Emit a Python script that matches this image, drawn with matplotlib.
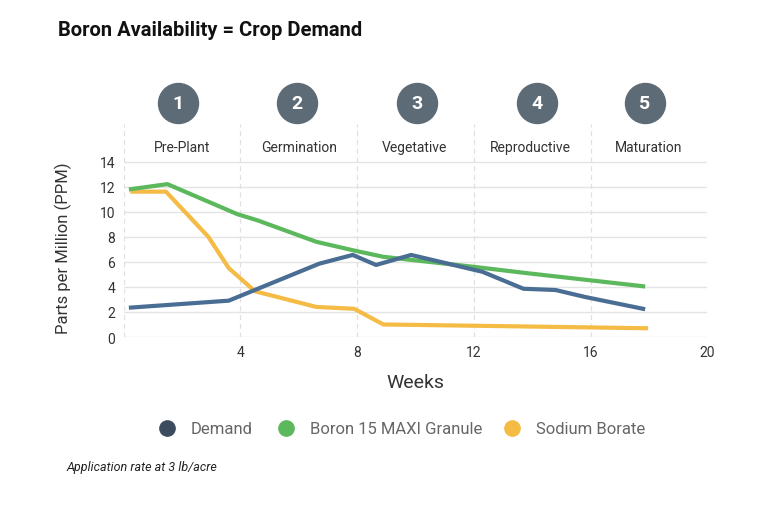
import matplotlib
matplotlib.use('Agg')

from matplotlib import pyplot
from matplotlib.lines import Line2D

pyplot.rcParams['font.family'] = ['Roboto', 'DejaVu Sans']

# data
demand_weeks = [0.25, 3.6, 6.7, 7.85, 8.65, 9.85, 12.3, 13.7, 14.8, 15.8, 17.8]
demand_ppm = [2.35, 2.9, 5.85, 6.55, 5.75, 6.55, 5.2, 3.85, 3.75, 3.2, 2.25]

granule_weeks = [0.25, 1.5, 3.9, 4.6, 6.6, 7.9, 8.9, 12.0, 13.8, 17.8]
granule_ppm = [11.8, 12.2, 9.8, 9.3, 7.6, 6.9, 6.4, 5.6, 5.1, 4.05]

borate_weeks = [0.3, 1.45, 2.9, 3.6, 4.5, 6.6, 7.9, 8.9, 12.0, 17.9]
borate_ppm = [11.6, 11.6, 8.0, 5.5, 3.65, 2.4, 2.25, 1.0, 0.9, 0.7]

stage_names = ['Pre-Plant', 'Germination', 'Vegetative', 'Reproductive', 'Maturation']
stage_centres = [2.0, 6.0, 9.95, 13.95, 18.0]
badge_x = [1.85, 5.95, 10.05, 14.15, 17.85]
stage_bounds = [0, 4, 8, 12, 16]

blue = '#4a6d94'
green = '#5cb85c'
yellow = '#f4bb45'
badge = '#5d6b76'

fig = pyplot.figure()
fig.set_size_inches(7.68, 5.06)
ax = fig.add_axes([0.161, 0.332, 0.760, 0.421])

for side in ['top', 'right', 'bottom', 'left']:
    ax.spines[side].set_visible(False)

ax.set_xlim(0, 20)
ax.set_ylim(0, 17)

for v in range(0, 15, 2):
    ax.axhline(v, color='#e4e4e4', lw=1, zorder=0)
for b in stage_bounds:
    ax.axvline(b, color='#e0e0e0', lw=0.9, ls=(0, (4, 3)), zorder=0)

ax.plot(demand_weeks, demand_ppm, color=blue, lw=3, zorder=3)
ax.plot(granule_weeks, granule_ppm, color=green, lw=3, zorder=2)
ax.plot(borate_weeks, borate_ppm, color=yellow, lw=3, zorder=1)

for name, x in zip(stage_names, stage_centres):
    ax.text(x, 14.6, name, ha='center', va='bottom', fontsize=10, color='#333333')

ax.scatter(badge_x, [18.65] * 5, s=830, color=badge, clip_on=False, zorder=5)
for i, x in enumerate(badge_x):
    ax.text(x, 18.65, str(i + 1), ha='center', va='center', fontsize=14,
            fontweight='bold', color='white', zorder=6, clip_on=False)

ax.set_xticks([4, 8, 12, 16, 20])
ax.set_yticks(range(0, 15, 2))
ax.tick_params(length=0, labelsize=10, colors='#333333', pad=6)
ax.set_xlabel('Weeks', fontsize=14, color='#333333', labelpad=10)
ax.set_ylabel('Parts per Million (PPM)', fontsize=12, color='#333333')
ax.yaxis.set_label_coords(-0.088, 0.42)

fig.text(0.076, 0.94, 'Boron Availability = Crop Demand', fontsize=14.5,
         fontweight='bold', color='#111111', va='center')

legend_items = [('Demand', '#3d4b5e', 0.217), ('Boron 15 MAXI Granule', green, 0.372),
                ('Sodium Borate', yellow, 0.667)]
for label, col, lx in legend_items:
    fig.add_artist(Line2D([lx], [0.152], marker='o', ms=11, color=col, lw=0))
    fig.text(lx + 0.031, 0.152, label, fontsize=12, color='#666666', va='center')

fig.text(0.087, 0.077, 'Application rate at 3 lb/acre', fontsize=9, style='italic',
         color='#222222', va='center')

pyplot.savefig('out.png', dpi=100)
